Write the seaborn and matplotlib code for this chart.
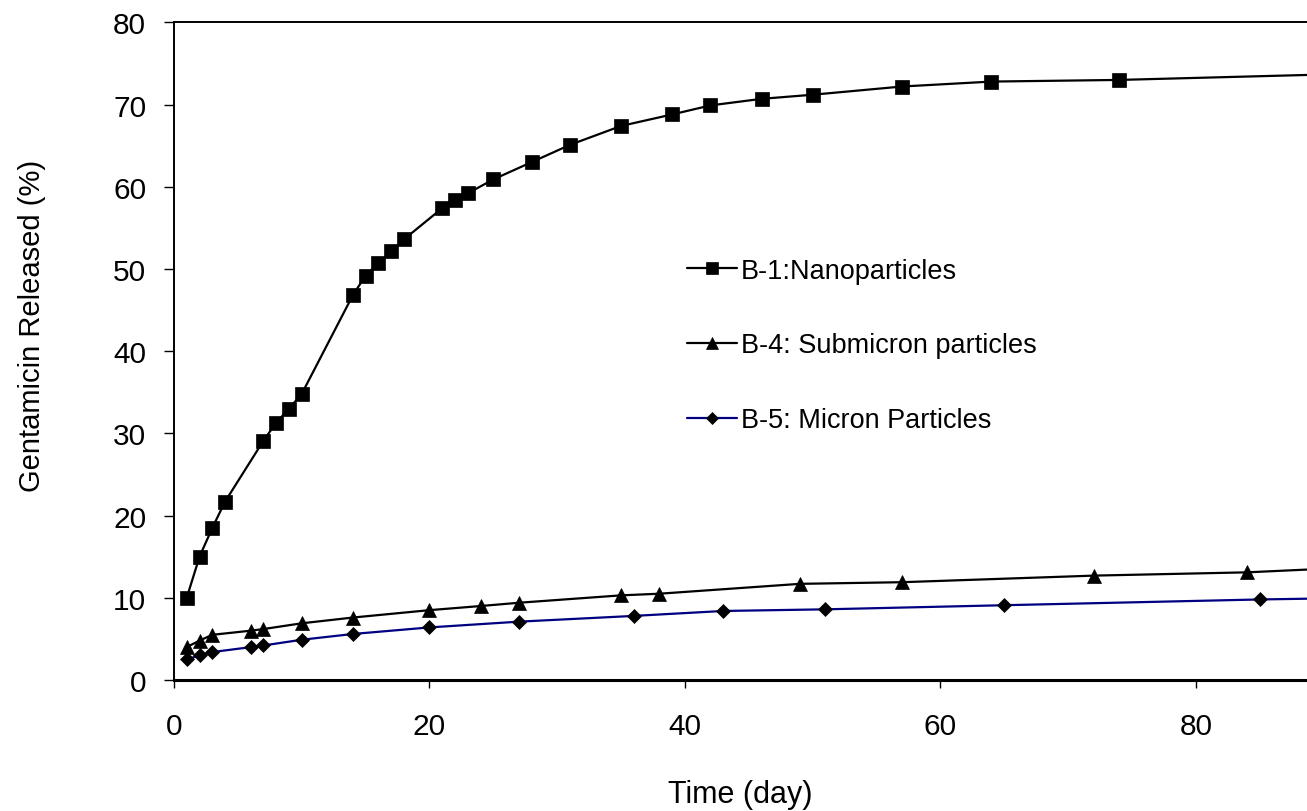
import numpy as np
import pandas as pd
import matplotlib
matplotlib.use("Agg")
import matplotlib.pyplot as plt
import seaborn as sns

# Cumulative gentamicin release (%) over time (days)
b1_days = [1, 2, 3, 4, 7, 8, 9, 10, 14, 15, 16, 17, 18, 21, 22, 23, 25, 28,
           31, 35, 39, 42, 46, 50, 57, 64, 74, 91]
b1_release = [10.0, 15.0, 18.5, 21.7, 29.1, 31.3, 33.0, 34.8, 46.8, 49.2, 50.7,
              52.2, 53.6, 57.4, 58.4, 59.2, 60.9, 63.0, 65.1, 67.4, 68.8, 69.9,
              70.7, 71.2, 72.2, 72.8, 73.0, 73.7]

b4_days = [1, 2, 3, 6, 7, 10, 14, 20, 24, 27, 35, 38, 49, 57, 72, 84, 91]
b4_release = [4.0, 4.8, 5.5, 6.0, 6.2, 6.9, 7.6, 8.5, 9.0, 9.4, 10.3, 10.5,
              11.7, 11.9, 12.7, 13.1, 13.6]

b5_days = [1, 2, 3, 6, 7, 10, 14, 20, 27, 36, 43, 51, 65, 85, 91]
b5_release = [2.5, 3.0, 3.4, 4.0, 4.2, 4.9, 5.6, 6.4, 7.1, 7.8, 8.4, 8.6, 9.1,
              9.8, 9.95]

labels = ["B-1:Nanoparticles", "B-4: Submicron particles", "B-5: Micron Particles"]
x_ticks = [0, 20, 40, 60, 80]
y_ticks = [0, 10, 20, 30, 40, 50, 60, 70, 80]

sns.set_style("white")
plt.rcParams["font.family"] = ["Liberation Sans", "DejaVu Sans"]
plt.rcParams["text.color"] = "black"
plt.rcParams["axes.labelcolor"] = "black"

fig = plt.figure(figsize=(13.07, 8.12), dpi=100)
ax = fig.add_axes([0.1331, 0.1613, 0.8669, 0.8099])

series = [
    (b1_days, b1_release, labels[0], "s", 10, "black"),
    (b4_days, b4_release, labels[1], "^", 10, "black"),
    (b5_days, b5_release, labels[2], "D", 7.3, "#000080"),
]
for days, vals, lab, mk, ms, col in series:
    df = pd.DataFrame({"day": days, "released": vals})
    sns.lineplot(data=df, x="day", y="released", ax=ax, color=col, lw=1.6,
                 marker=mk, markersize=ms, markerfacecolor="black",
                 markeredgecolor="black", markeredgewidth=0.5, label=lab,
                 sort=False, estimator=None)

ax.set_xlim(0, 88.7)
ax.set_ylim(0, 80)
ax.set_xticks(x_ticks)
ax.set_yticks(y_ticks)

for side in ["left", "top", "bottom"]:
    ax.spines[side].set_visible(True)
    ax.spines[side].set_color("black")
ax.spines["right"].set_visible(False)
ax.spines["left"].set_linewidth(1.4)
ax.spines["top"].set_linewidth(1.4)
ax.spines["bottom"].set_linewidth(2.2)

ax.tick_params(axis="y", direction="out", length=7, width=1.0, left=True,
               labelsize=21.5, pad=13, colors="black")
ax.tick_params(axis="x", direction="out", length=6, width=1.0, bottom=True,
               labelsize=21.5, pad=17, colors="black")

ax.set_xlabel("Time (day)", fontsize=22, labelpad=28)
ax.set_ylabel("Gentamicin Released (%)", fontsize=21, labelpad=48, y=0.54)

leg = ax.legend(loc="center left", bbox_to_anchor=(0.515, 0.5735),
                bbox_transform=fig.transFigure, frameon=False, fontsize=19.5,
                borderpad=0, labelspacing=1.8, handlelength=1.85,
                handletextpad=0.15, markerscale=0.8)
for t in leg.get_texts():
    t.set_color("black")

fig.savefig("out.png", dpi=100)
